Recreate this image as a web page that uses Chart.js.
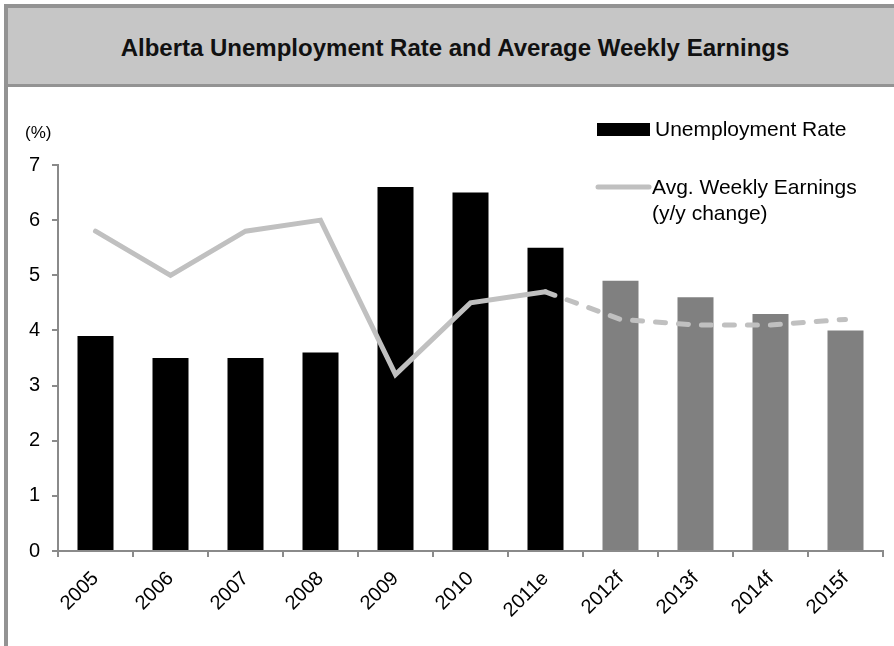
<!DOCTYPE html>
<html>
<head>
<meta charset="utf-8">
<title>Alberta Unemployment Rate and Average Weekly Earnings</title>
<script src="https://cdn.jsdelivr.net/npm/chart.js@4"></script>
<style>
  html, body { margin: 0; padding: 0; background: #fff; }
  body { width: 894px; height: 646px; position: relative; overflow: hidden; font-family: "Liberation Sans", Arial, sans-serif; }
  .frame-left { position: absolute; left: 4px; top: 4px; width: 4px; height: 642px; background: #939393; }
  .band { position: absolute; left: 8px; top: 4px; width: 886px; height: 83px; background: #c6c6c6;
          border-top: 4px solid #939393; border-bottom: 3px solid #939393; box-sizing: border-box; }
  .band h1 { margin: 0; position: absolute; left: 0; right: 0; top: 26px; text-align: center;
             font-size: 24px; font-weight: bold; color: #111; line-height: 28px; padding-left: 8px; }
  #wrap { position: absolute; left: 8px; top: 90px; width: 886px; height: 556px; }
</style>
</head>
<body>
<div class="band"><h1>Alberta Unemployment Rate and Average Weekly Earnings</h1></div>
<div class="frame-left"></div>
<div id="wrap"><canvas id="chart"></canvas></div>

<script>
// Data
const years = ['2005', '2006', '2007', '2008', '2009', '2010', '2011e', '2012f', '2013f', '2014f', '2015f'];
const unemploymentRate = [3.9, 3.5, 3.5, 3.6, 6.6, 6.5, 5.5, 4.9, 4.6, 4.3, 4.0];
const weeklyEarnings = [5.8, 5.0, 5.8, 6.0, 3.2, 4.5, 4.7, 4.2, 4.1, 4.1, 4.2];
const yTicks = [0, 1, 2, 3, 4, 5, 6, 7];

// earnings line turns dashed after the 2011 estimate
const lastActual = years.indexOf('2011e');

const axisGray = '#8a8a8a';
const lineGray = '#c0c0c0';
const fontFamily = '"Liberation Sans", Arial, sans-serif';

// Legend drawn by hand in the top right corner, plus the "(%)" unit label
const customLegend = {
    id: 'customLegend',
    afterDraw(chart) {
        const ctx = chart.ctx;
        ctx.save();
        ctx.fillStyle = '#000';
        ctx.font = '17px ' + fontFamily;
        ctx.textBaseline = 'middle';
        ctx.textAlign = 'left';
        ctx.fillText('(%)', 17, 43);

        ctx.font = '21px ' + fontFamily;
        // bar swatch
        ctx.fillRect(589, 33, 53, 13);
        ctx.fillText(chart.data.datasets[1].label, 647, 40);

        // line swatch
        ctx.strokeStyle = lineGray;
        ctx.lineWidth = 5;
        ctx.lineCap = 'round';
        ctx.beginPath();
        ctx.moveTo(590, 97);
        ctx.lineTo(641, 97);
        ctx.stroke();
        const parts = chart.data.datasets[0].label.split('\n');
        ctx.fillText(parts[0], 644, 98);
        ctx.fillText(parts[1], 644, 124);
        ctx.restore();
    }
};

document.addEventListener('DOMContentLoaded', function() {
    const ctx = document.getElementById('chart').getContext('2d');
    new Chart(ctx, {
        type: 'bar',
        data: {
            labels: years,
            datasets: [{
                type: 'line',
                label: 'Avg. Weekly Earnings\n(y/y change)',
                data: weeklyEarnings,
                borderColor: lineGray,
                borderWidth: 5,
                borderCapStyle: 'round',
                pointRadius: 0,
                tension: 0,
                order: 0,
                segment: {
                    borderDash: c => c.p0DataIndex >= lastActual ? [10, 13] : undefined
                }
            }, {
                label: 'Unemployment Rate',
                data: unemploymentRate,
                backgroundColor: years.map(y => y.endsWith('f') ? '#808080' : '#000000'),
                borderWidth: 0,
                categoryPercentage: 1,
                barPercentage: 0.48,
                order: 1
            }]
        },
        options: {
            responsive: true,
            maintainAspectRatio: false,
            animation: false,
            layout: {
                padding: { top: 75, right: 11, left: 0, bottom: 0 }
            },
            plugins: {
                legend: { display: false },
                tooltip: { enabled: false }
            },
            scales: {
                x: {
                    grid: {
                        drawOnChartArea: false,
                        drawTicks: true,
                        tickLength: 6,
                        color: axisGray,
                        lineWidth: 2
                    },
                    border: { color: axisGray, width: 2 },
                    ticks: {
                        color: '#000',
                        minRotation: 45,
                        maxRotation: 45,
                        padding: 10,
                        font: { family: fontFamily, size: 20 }
                    },
                    afterFit(scale) { scale.height = 95; }
                },
                y: {
                    min: yTicks[0],
                    max: yTicks[yTicks.length - 1],
                    afterBuildTicks(scale) { scale.ticks = yTicks.map(v => ({ value: v })); },
                    grid: {
                        drawOnChartArea: false,
                        drawTicks: true,
                        tickLength: 6,
                        color: axisGray,
                        lineWidth: 2
                    },
                    border: { color: axisGray, width: 2 },
                    ticks: {
                        color: '#000',
                        padding: 12,
                        font: { family: fontFamily, size: 20 }
                    },
                    afterFit(scale) { scale.width = 50; }
                }
            }
        },
        plugins: [customLegend]
    });
});
</script>
</body>
</html>
